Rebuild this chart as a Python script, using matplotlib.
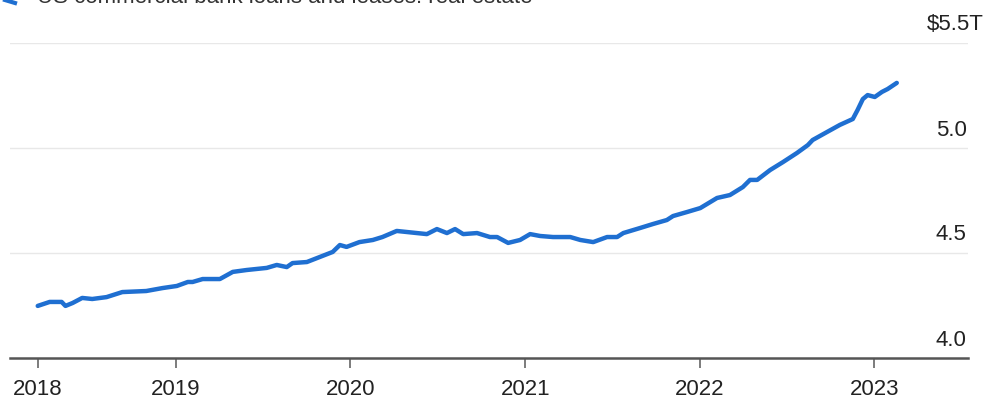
import matplotlib
matplotlib.use('Agg')
import matplotlib.pyplot as plt
import matplotlib.transforms as mtransforms
import pandas as pd

# US commercial bank loans and leases: real estate ($T)
dates = ['2018-03-18', '2018-04-12', '2018-05-07', '2018-05-15', '2018-05-30',
         '2018-06-19', '2018-07-10', '2018-08-09', '2018-09-11', '2018-10-31',
         '2018-12-04', '2019-01-03', '2019-01-26', '2019-02-05', '2019-02-26',
         '2019-04-03', '2019-04-30', '2019-05-29', '2019-07-10', '2019-07-31',
         '2019-08-21', '2019-09-02', '2019-10-02', '2019-10-29', '2019-11-25',
         '2019-12-10', '2019-12-24', '2020-01-20', '2020-02-17', '2020-03-08',
         '2020-04-07', '2020-04-28', '2020-05-19', '2020-06-09', '2020-06-30',
         '2020-07-21', '2020-08-07', '2020-08-24', '2020-09-22', '2020-10-19',
         '2020-11-03', '2020-11-26', '2020-12-21', '2021-01-11', '2021-02-01',
         '2021-02-28', '2021-04-05', '2021-04-26', '2021-05-23', '2021-06-21',
         '2021-07-12', '2021-07-25', '2021-08-29', '2021-09-25', '2021-10-24',
         '2021-11-06', '2021-12-05', '2022-01-02', '2022-02-06', '2022-03-05',
         '2022-04-01', '2022-04-16', '2022-05-01', '2022-05-28', '2022-06-24',
         '2022-07-23', '2022-08-15', '2022-08-25', '2022-09-24', '2022-10-21',
         '2022-11-17', '2022-11-27', '2022-12-08', '2022-12-18', '2023-01-02',
         '2023-01-17', '2023-01-29', '2023-02-17']
values = [4.248, 4.267, 4.267, 4.248, 4.262,
          4.286, 4.281, 4.290, 4.314, 4.319,
          4.333, 4.343, 4.362, 4.362, 4.376,
          4.376, 4.410, 4.419, 4.429, 4.443,
          4.433, 4.452, 4.457, 4.481, 4.505,
          4.538, 4.529, 4.552, 4.562, 4.576,
          4.605, 4.600, 4.595, 4.590, 4.614,
          4.595, 4.614, 4.590, 4.595, 4.576,
          4.576, 4.548, 4.562, 4.590, 4.581,
          4.576, 4.576, 4.562, 4.552, 4.576,
          4.576, 4.595, 4.619, 4.638, 4.657,
          4.676, 4.695, 4.714, 4.762, 4.776,
          4.814, 4.848, 4.848, 4.895, 4.933,
          4.976, 5.014, 5.038, 5.076, 5.110,
          5.138, 5.181, 5.233, 5.252, 5.243,
          5.267, 5.281, 5.310]

tick_dates = ['2018-03-18', '2019-01-01', '2020-01-01', '2021-01-01', '2022-01-01', '2023-01-01']
tick_labels = ['2018', '2019', '2020', '2021', '2022', '2023']
y_ticks = [4.0, 4.5, 5.0, 5.5]
y_labels = ['4.0', '4.5', '5.0', '$5.5T']
title = 'US commercial bank loans and leases: real estate'

plt.rcParams['font.family'] = ['Liberation Sans', 'DejaVu Sans']

x = pd.to_datetime(dates)
fig = plt.figure(figsize=(9.91, 4.01), dpi=100)
ax = fig.add_axes([10 / 991, 43 / 401, 958 / 991, 315 / 401])

line_color = '#1f6fd1'
ax.plot(x, values, color=line_color, lw=3.2, solid_capstyle='round',
        solid_joinstyle='round', zorder=3)

ax.set_xlim(pd.Timestamp('2018-01-19'), pd.Timestamp('2023-07-16'))
ax.set_ylim(4.0, 5.5)

# grid lines, labels sit above them on the right
for v in y_ticks[1:]:
    ax.axhline(v, color='#e8e8e8', lw=1, zorder=1)
lab_trans = mtransforms.offset_copy(
    mtransforms.blended_transform_factory(fig.transFigure, ax.transData),
    fig=fig, x=0, y=18, units='dots')
for v, lab in zip(y_ticks, y_labels):
    xpos = 927 / 991 if lab.startswith('$') else 936 / 991
    ax.text(xpos, v, lab, transform=lab_trans, ha='left', va='center',
            fontsize=16, color='#222222', clip_on=False)

ax.set_yticks([])
ax.set_xticks(pd.to_datetime(tick_dates))
ax.set_xticklabels(tick_labels, fontsize=16, color='#222222')
ax.tick_params(axis='x', length=7, width=1.2, color='#666666', pad=8)

for s in ['top', 'right', 'left']:
    ax.spines[s].set_visible(False)
ax.spines['bottom'].set_color('#555555')
ax.spines['bottom'].set_linewidth(1.8)

# legend at the top, cut off by the image edge like in the source
fig.add_artist(plt.Line2D([5 / 991, 15 / 991], [1.0, 1 - 3 / 401], color=line_color, lw=3,
                          transform=fig.transFigure))
fig.text(37 / 991, 1 - 3 / 401, title, fontsize=16, color='#333333',
         va='baseline', ha='left')

fig.savefig('out.png', dpi=100)
